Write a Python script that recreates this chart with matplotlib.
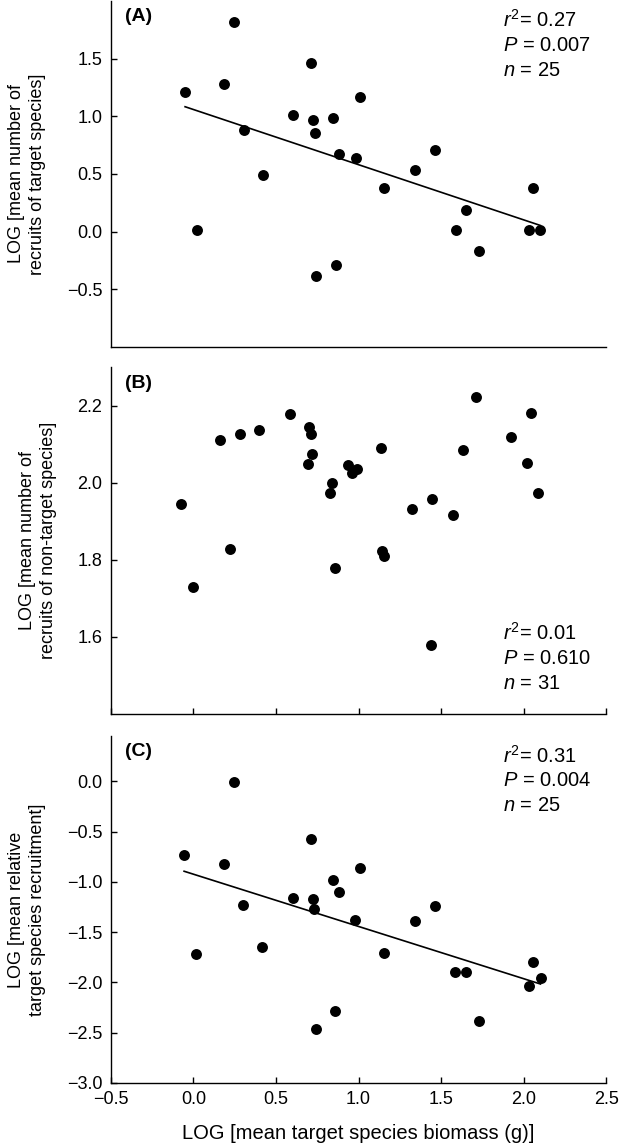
import numpy as np
import matplotlib
matplotlib.use('Agg')
import matplotlib.pyplot as plt

plt.rcParams['font.family'] = ['Liberation Sans', 'DejaVu Sans']
plt.rcParams['mathtext.fontset'] = 'custom'
plt.rcParams['mathtext.rm'] = 'Liberation Sans'
plt.rcParams['mathtext.it'] = 'Liberation Sans:italic'

# (A) recruits of target species
xa = [-0.05, 0.024, 0.188, 0.248, 0.306, 0.419, 0.605, 0.714, 0.724, 0.734, 0.744, 0.847, 0.861,
      0.879, 0.982, 1.008, 1.153, 1.341, 1.460, 1.587, 1.651, 1.726, 2.030, 2.056, 2.099]
ya = [1.212, 0.011, 1.281, 1.819, 0.885, 0.487, 1.009, 1.464, 0.966, 0.854, -0.387, 0.983, -0.292,
      0.670, 0.639, 1.169, 0.378, 0.533, 0.708, 0.011, 0.186, -0.166, 0.011, 0.378, 0.011]

# (B) recruits of non-target species
xb = [-0.075, -0.002, 0.164, 0.224, 0.281, 0.396, 0.584, 0.701, 0.711, 0.721, 0.691, 0.838, 0.826,
      0.859, 0.937, 0.962, 0.992, 1.133, 1.141, 1.152, 1.321, 1.442, 1.440, 1.570, 1.632, 1.709,
      1.923, 2.020, 2.044, 2.085]
yb = [1.945, 1.729, 2.110, 1.828, 2.126, 2.137, 2.178, 2.145, 2.126, 2.075, 2.048, 2.000, 1.973,
      1.778, 2.046, 2.025, 2.035, 2.091, 1.824, 1.810, 1.932, 1.958, 1.579, 1.916, 2.086, 2.221,
      2.118, 2.052, 2.181, 1.972]

# (C) relative target species recruitment
xc = [-0.056, 0.016, 0.183, 0.244, 0.300, 0.415, 0.605, 0.712, 0.724, 0.732, 0.742, 0.845, 0.857,
      0.879, 0.980, 1.008, 1.151, 1.341, 1.462, 1.585, 1.651, 1.728, 2.034, 2.058, 2.101]
yc = [-0.728, -1.714, -0.824, -0.003, -1.234, -1.644, -1.164, -0.576, -1.174, -1.270, -2.461, -0.986,
      -2.286, -1.102, -1.379, -0.860, -1.707, -1.393, -1.244, -1.899, -1.899, -2.382, -2.038, -1.800,
      -1.955]

panels = [
    ('(A)', xa, ya, True, ['$r^{2}$= 0.27', '$P$ = 0.007', '$n$ = 25'], 'top',
     'LOG [mean number of\nrecruits of target species]', (-1.0, 2.0), [-0.5, 0.0, 0.5, 1.0, 1.5]),
    ('(B)', xb, yb, False, ['$r^{2}$= 0.01', '$P$ = 0.610', '$n$ = 31'], 'bottom',
     'LOG [mean number of\nrecruits of non-target species]', (1.4, 2.3), [1.6, 1.8, 2.0, 2.2]),
    ('(C)', xc, yc, True, ['$r^{2}$= 0.31', '$P$ = 0.004', '$n$ = 25'], 'top',
     'LOG [mean relative\ntarget species recruitment]', (-3.0, 0.45),
     [-3.0, -2.5, -2.0, -1.5, -1.0, -0.5, 0.0]),
]
xt = [-0.5, 0.0, 0.5, 1.0, 1.5, 2.0, 2.5]

fig = plt.figure(figsize=(6.22, 11.47), dpi=100)
boxes = [[0.178, 0.6975, 0.797, 0.3017],
         [0.178, 0.3775, 0.797, 0.3025],
         [0.178, 0.0558, 0.797, 0.3025]]

for i, (lab, x, y, fit, stats, pos, ylab, ylim, yt) in enumerate(panels):
    ax = fig.add_axes(boxes[i])
    ax.scatter(x, y, s=62, color='black', zorder=3, linewidths=0)
    if fit:
        k, b = np.polyfit(x, y, 1)
        xs = np.array([min(x), max(x)])
        ax.plot(xs, k * xs + b, color='black', lw=1.2)
    ax.set_xlim(-0.5, 2.5)
    ax.set_ylim(*ylim)
    ax.set_yticks(yt)
    ax.set_yticklabels([('%.1f' % v).replace('-', '\u2212') for v in yt])
    if i == 0:
        ax.set_xticks([])
    else:
        ax.set_xticks(xt)
    if i == 2:
        ax.set_xticklabels([('%.1f' % v).replace('-', '\u2212') for v in xt])
        ax.set_xlabel('LOG [mean target species biomass (g)]', fontsize=14.5, labelpad=11)
    elif i == 1:
        ax.set_xticklabels([])
    for s in ['top', 'right']:
        ax.spines[s].set_visible(False)
    for s in ['left', 'bottom']:
        ax.spines[s].set_linewidth(1.0)
    ax.tick_params(direction='in', length=4, width=1.0, labelsize=13, pad=6)
    ax.set_ylabel(ylab, fontsize=13, labelpad=15, linespacing=1.3)
    ax.text(0.028, 0.954, lab, transform=ax.transAxes, fontsize=14, fontweight='bold', va='center')
    if pos == 'top':
        ys = [0.944, 0.872, 0.800]
    else:
        ys = [0.233, 0.161, 0.089]
    for t, yy in zip(stats, ys):
        ax.text(0.792, yy, t, transform=ax.transAxes, fontsize=14.5, va='center')

fig.savefig('out.png', dpi=100)
